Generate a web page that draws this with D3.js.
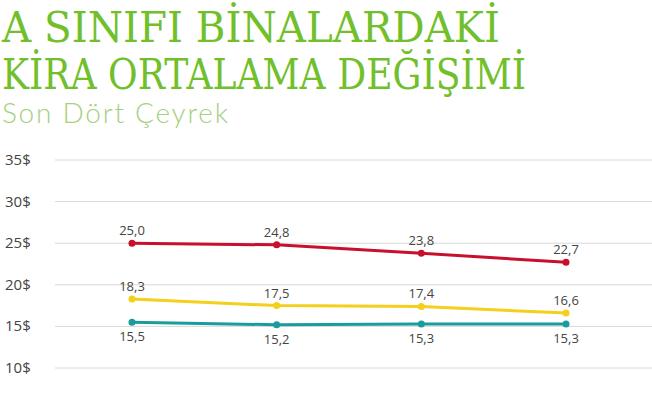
<!DOCTYPE html>
<html><head><meta charset="utf-8">
<script src="https://cdn.jsdelivr.net/npm/d3@7"></script>
<style>body{margin:0;background:#fff}</style>
</head><body>
<svg id="chart" width="652" height="400"></svg>
<script>
const quarters = ['Q1', 'Q2', 'Q3', 'Q4'];
const redSeries = [25.0, 24.8, 23.8, 22.7];
const yellowSeries = [18.3, 17.5, 17.4, 16.6];
const tealSeries = [15.5, 15.2, 15.3, 15.3];
const yTicks = [5, 10, 15, 20, 25, 30, 35];

const svg = d3.select('#chart');
const x = d3.scalePoint().domain(quarters).range([132, 566]);
const y = d3.scaleLinear().domain([10, 35]).range([368, 160]);
const fmt = v => v.toFixed(1).replace('.', ',');

// title
svg.append('text').attr('x', 2).attr('y', 42)
	.attr('font-family', 'DejaVu Serif').attr('font-size', 42)
	.attr('fill', '#72bf2c').attr('textLength', 498).attr('lengthAdjust', 'spacingAndGlyphs')
	.text('A SINIFI BİNALARDAKİ');
svg.append('text').attr('x', 2).attr('y', 89)
	.attr('font-family', 'DejaVu Serif').attr('font-size', 42)
	.attr('fill', '#72bf2c').attr('textLength', 524).attr('lengthAdjust', 'spacingAndGlyphs')
	.text('KİRA ORTALAMA DEĞİŞİMİ');
svg.append('text').attr('x', 2).attr('y', 123)
	.attr('font-family', 'Lato').attr('font-weight', 300).attr('font-size', 28)
	.attr('fill', '#a6cf7e').attr('textLength', 226).text('Son Dört Çeyrek');

// grid + y labels
yTicks.forEach(t => {
	svg.append('line').attr('x1', 55).attr('x2', 652)
		.attr('y1', y(t)).attr('y2', y(t))
		.attr('stroke', '#d8d8d8').attr('stroke-width', 1);
	svg.append('text').attr('x', 5).attr('y', y(t) + 5)
		.attr('font-family', 'Open Sans').attr('font-size', 15)
		.attr('fill', '#444').text(t + '$');
});

const line = d3.line().x((d, i) => x(quarters[i])).y(d => y(d));
function drawSeries(values, color, below) {
	svg.append('path').datum(values).attr('d', line)
		.attr('fill', 'none').attr('stroke', color).attr('stroke-width', 3);
	values.forEach((v, i) => {
		svg.append('circle').attr('cx', x(quarters[i])).attr('cy', y(v))
			.attr('r', 3.5).attr('fill', color);
		svg.append('text').attr('x', x(quarters[i])).attr('y', y(v) + (below ? 19 : -8))
			.attr('text-anchor', 'middle').attr('font-family', 'Open Sans')
			.attr('font-size', 13).attr('fill', '#444').text(fmt(v));
	});
}
drawSeries(redSeries, '#c8102e', false);
drawSeries(yellowSeries, '#f4cf1c', false);
drawSeries(tealSeries, '#1a9c9c', true);
</script>
</body></html>
